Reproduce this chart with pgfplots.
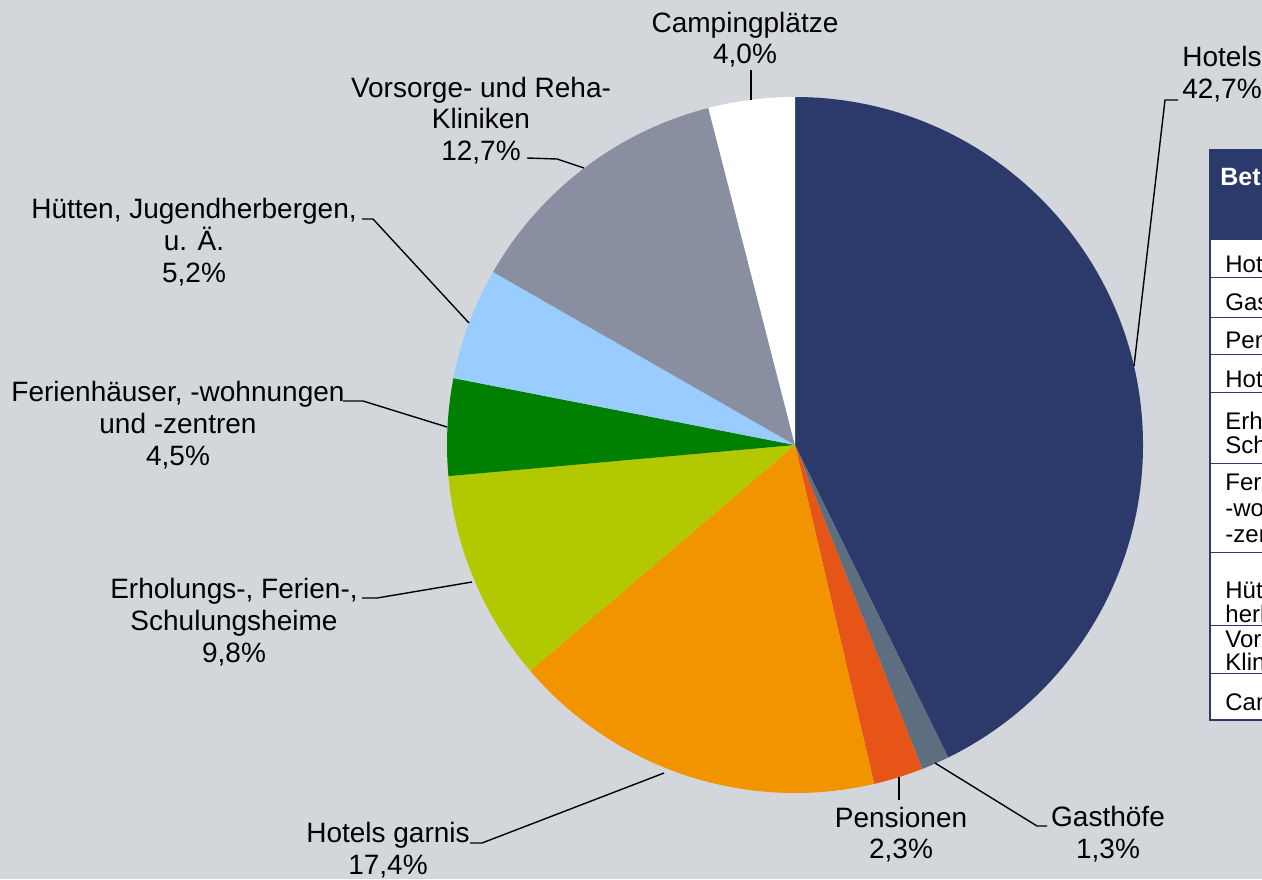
\documentclass[border=0pt]{standalone}
\usepackage{fontspec}
\setmainfont{Liberation Sans}
\usepackage{pgfplots}
\usepackage{pgfplotstable}
\pgfplotsset{compat=1.18}

\definecolor{bg}{RGB}{211,215,219}
\definecolor{cHot}{RGB}{43,58,107}
\definecolor{cGast}{RGB}{92,110,128}
\definecolor{cPen}{RGB}{230,84,23}
\definecolor{cGar}{RGB}{242,148,0}
\definecolor{cErh}{RGB}{178,200,0}
\definecolor{cFer}{RGB}{0,128,0}
\definecolor{cHut}{RGB}{153,204,255}
\definecolor{cVor}{RGB}{137,142,160}
\definecolor{cCamp}{RGB}{255,255,255}

\pgfplotstableread[col sep=comma]{
name,value,col
Hotels,42.7,cHot
Gasthoefe,1.3,cGast
Pensionen,2.3,cPen
Hotels garnis,17.4,cGar
Erholungsheime,9.8,cErh
Ferienhaeuser,4.5,cFer
Huetten,5.2,cHut
Vorsorge,12.7,cVor
Camping,4.0,cCamp
}\piedata

\def\total{0}
\pgfplotsforeachungrouped \i in {0,...,8}{%
  \pgfplotstablegetelem{\i}{value}\of\piedata
  \pgfmathsetmacro\total{\total+\pgfplotsretval}%
}
\def\cum{0}
\pgfplotsforeachungrouped \i in {0,...,8}{%
  \pgfplotstablegetelem{\i}{value}\of\piedata
  \pgfmathsetmacro\sa{90-(\cum/\total)*360}%
  \pgfmathsetmacro\cum{\cum+\pgfplotsretval}%
  \pgfmathsetmacro\ea{90-(\cum/\total)*360}%
  \expandafter\xdef\csname sa\i\endcsname{\sa}%
  \expandafter\xdef\csname ea\i\endcsname{\ea}%
  \pgfplotstablegetelem{\i}{col}\of\piedata
  \expandafter\xdef\csname co\i\endcsname{\pgfplotsretval}%
}

\newcommand\lf{\fontsize{14}{16}\selectfont}
\newcommand\tf{\fontsize{12}{14}\selectfont}
\newcommand\hf{\fontsize{12.5}{14}\selectfont\bfseries}
\tikzset{
  lbl/.style={anchor=base, font=\lf, inner sep=0pt},
  tl/.style={anchor=base west, font=\tf, inner sep=0pt},
  ld/.style={black, line width=0.7pt},
}

\begin{document}
\begin{tikzpicture}
\fill[bg] (0,0) rectangle (631pt,439.5pt);
\begin{axis}[
  at={(0,0)}, anchor=south west,
  x=0.5pt, y=0.5pt,
  xmin=0, xmax=1262, ymin=0, ymax=879,
  y dir=reverse,
  hide axis, clip=false, disabledatascaling,
]
% pie slices from the table values
\pgfplotsinvokeforeach{0,...,8}{%
  \edef\temp{\noexpand\fill[\csname co#1\endcsname] (axis cs:795,445) -- ++(\csname sa#1\endcsname:174pt) arc[start angle=\csname sa#1\endcsname, end angle=\csname ea#1\endcsname, radius=174pt] -- cycle;}%
  \temp
}

% leader lines
\draw[ld] (axis cs:1134,366) -- (axis cs:1165,100) -- (axis cs:1178,100);
\draw[ld] (axis cs:751,100) -- (axis cs:751,70);
\draw[ld] (axis cs:584,168) -- (axis cs:557,159) -- (axis cs:527,158);
\draw[ld] (axis cs:469,323) -- (axis cs:373,219) -- (axis cs:362,219);
\draw[ld] (axis cs:447,427) -- (axis cs:363,401) -- (axis cs:343,401);
\draw[ld] (axis cs:472,582) -- (axis cs:377,598) -- (axis cs:362,598);
\draw[ld] (axis cs:664,773) -- (axis cs:482,843) -- (axis cs:470,843);
\draw[ld] (axis cs:899,777) -- (axis cs:899,800);
\draw[ld] (axis cs:935,763) -- (axis cs:1037,826) -- (axis cs:1047,826);

% labels
\node[lbl] at (axis cs:1222,66) {Hotels};
\node[lbl] at (axis cs:1222,98) {42,7\%};
\node[lbl] at (axis cs:745,32) {Campingplätze};
\node[lbl] at (axis cs:745,63) {4,0\%};
\node[lbl] at (axis cs:481,97) {Vorsorge- und Reha-};
\node[lbl] at (axis cs:481,128) {Kliniken};
\node[lbl] at (axis cs:481,160) {12,7\%};
\node[lbl] at (axis cs:194,218) {Hütten, Jugendherbergen,};
\node[lbl] at (axis cs:194,250) {u. Ä.};
\node[lbl] at (axis cs:194,282) {5,2\%};
\node[lbl] at (axis cs:178,401) {Ferienhäuser, -wohnungen};
\node[lbl] at (axis cs:178,433) {und -zentren};
\node[lbl] at (axis cs:178,465) {4,5\%};
\node[lbl] at (axis cs:234,598) {Erholungs-, Ferien-,};
\node[lbl] at (axis cs:234,630) {Schulungsheime};
\node[lbl] at (axis cs:234,662) {9,8\%};
\node[lbl] at (axis cs:388,842) {Hotels garnis};
\node[lbl] at (axis cs:388,874) {17,4\%};
\node[lbl] at (axis cs:901,827) {Pensionen};
\node[lbl] at (axis cs:901,858) {2,3\%};
\node[lbl] at (axis cs:1108,826) {Gasthöfe};
\node[lbl] at (axis cs:1108,858) {1,3\%};

% table (cut by the picture edge)
\fill[cHot] (axis cs:1210,150) rectangle (axis cs:1700,240);
\fill[white] (axis cs:1210,240) rectangle (axis cs:1700,720);
\draw[cHot, line width=0.5pt] (axis cs:1210,277) -- (axis cs:1700,277);
\draw[cHot, line width=0.5pt] (axis cs:1210,317) -- (axis cs:1700,317);
\draw[cHot, line width=0.5pt] (axis cs:1210,354) -- (axis cs:1700,354);
\draw[cHot, line width=0.5pt] (axis cs:1210,392) -- (axis cs:1700,392);
\draw[cHot, line width=0.5pt] (axis cs:1210,463) -- (axis cs:1700,463);
\draw[cHot, line width=0.5pt] (axis cs:1210,552) -- (axis cs:1700,552);
\draw[cHot, line width=0.5pt] (axis cs:1210,625) -- (axis cs:1700,625);
\draw[cHot, line width=0.5pt] (axis cs:1210,673) -- (axis cs:1700,673);
\draw[cHot, line width=1pt] (axis cs:1700,150) -- (axis cs:1210,150) -- (axis cs:1210,720) -- (axis cs:1700,720);
\node[tl, text=white, font=\hf] at (axis cs:1220,185) {Betriebsart};
\node[tl] at (axis cs:1225,272) {Hotels};
\node[tl] at (axis cs:1225,310) {Gasthöfe};
\node[tl] at (axis cs:1225,348) {Pensionen};
\node[tl] at (axis cs:1225,387) {Hotels garnis};
\node[tl] at (axis cs:1225,429) {Erholungs-, Ferien-,};
\node[tl] at (axis cs:1225,453) {Schulungsheime};
\node[tl] at (axis cs:1225,490) {Ferienhäuser,};
\node[tl] at (axis cs:1225,516) {-wohnungen und};
\node[tl] at (axis cs:1225,542) {-zentren};
\node[tl] at (axis cs:1225,598) {Hütten, Jugend-};
\node[tl] at (axis cs:1225,622) {herbergen, u. Ä.};
\node[tl] at (axis cs:1225,647) {Vorsorge- und Reha-};
\node[tl] at (axis cs:1225,670) {Kliniken};
\node[tl] at (axis cs:1225,710) {Campingplätze};
\end{axis}
\pgfresetboundingbox
\path[use as bounding box] (0,0) rectangle (631pt,439.5pt);
\end{tikzpicture}
\end{document}
